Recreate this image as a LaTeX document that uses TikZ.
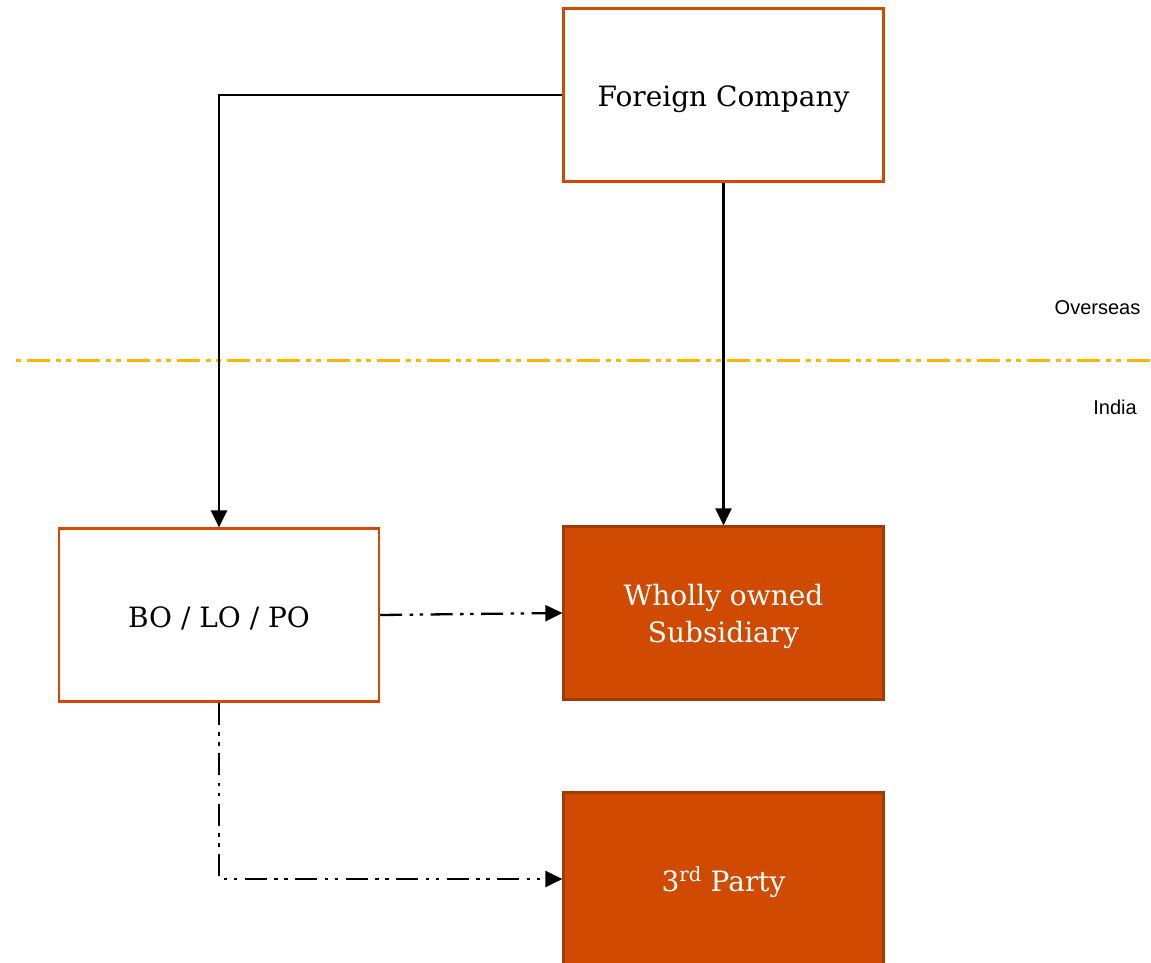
\documentclass[tikz,border=0pt]{standalone}
\usepackage{fontspec}
\setmainfont{DejaVu Serif}
\newfontfamily\labelfont{Liberation Sans}
\usetikzlibrary{arrows.meta}

\definecolor{pwcorange}{HTML}{D04A02}
\definecolor{pwcdark}{HTML}{A23A05}
\definecolor{pwcyellow}{HTML}{FFB600}

\tikzset{
  entity/.style={draw=pwcorange, line width=2.2pt, fill=white,
    minimum width=320pt, minimum height=173pt, inner sep=0pt,
    align=center, font=\fontsize{28}{37}\selectfont},
  oneline/.style={text height=24pt, text depth=0pt},
  solidentity/.style={entity, draw=pwcdark, fill=pwcorange, text=white},
  caption/.style={font=\fontsize{28}{37}\selectfont, text=white,
    align=center, inner sep=0pt},
  link/.style={line width=2.3pt, -{Triangle[length=17pt,width=16pt]}},
  indirect/.style={link, dash pattern=on 22pt off 7.5pt on 3.5pt off 6.5pt on 3.5pt off 7.5pt},
  border/.style={pwcyellow, line width=3pt,
    dash pattern=on 5pt off 5.5pt on 23pt off 6.5pt on 5pt off 5pt},
  region/.style={font=\labelfont\fontsize{20}{24}\selectfont, inner sep=0pt}
}

\begin{document}
\begin{tikzpicture}[x=1pt, y=-1pt]
  \useasboundingbox (0,0) rectangle (1151,963);

  % boundary between the two jurisdictions
  \coordinate (lineL) at (16,360);
  \coordinate (lineR) at (1151,360);
  \draw[border] (lineL) -- (lineR);
  \node[region] (overseas) at (1097.5,308) {Overseas};
  \node[region] (india) at (1115,407) {India};

  % entities
  \node[entity, oneline] (fc) at (723.5,95) {Foreign Company};
  \node[entity, oneline] (bo) at (219,615) {BO / LO / PO};
  \node[solidentity,
        label={[caption, yshift=-3pt]center:{Wholly owned\\Subsidiary}}]
        (wos) at (723.5,613) {};
  \node[solidentity, oneline] (tp) at (723.5,879) {3\textsuperscript{rd} Party};

  % relationships
  \draw[link] (fc.west) -| (bo.north);
  \draw[link] (fc.south) -- (wos.north);
  \draw[indirect] (bo.east) -- (wos.west);
  \draw[indirect] (bo.south) |- (tp.west);
\end{tikzpicture}
\end{document}
